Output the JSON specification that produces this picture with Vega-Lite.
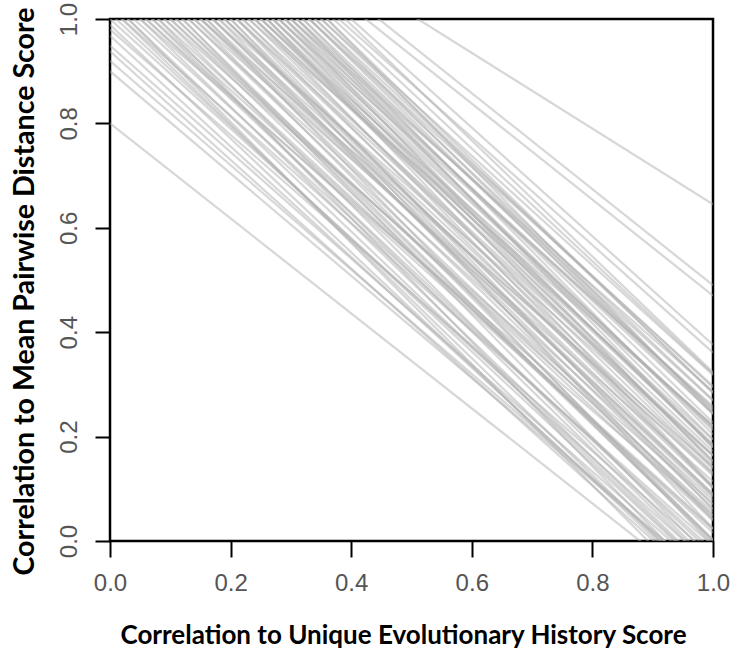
{
  "$schema": "https://vega.github.io/schema/vega-lite/v6.json",
  "autosize": "none",
  "width": 603,
  "height": 522,
  "padding": {"left": 110, "top": 19, "right": 20, "bottom": 119},
  "background": "white",
  "config": {"view": {"stroke": "black", "strokeWidth": 2.5}},
  "datasets": {
    "lines": [
      {"g":1,"x":0,"y":0.90},{"g":1,"x":1,"y":-0.08},
      {"g":2,"x":0,"y":0.92},{"g":2,"x":1,"y":-0.08},
      {"g":3,"x":0,"y":0.938},{"g":3,"x":1,"y":-0.102},
      {"g":4,"x":0,"y":0.949},{"g":4,"x":1,"y":-0.071},
      {"g":5,"x":0,"y":0.968},{"g":5,"x":1,"y":-0.092},
      {"g":6,"x":0,"y":0.980},{"g":6,"x":1,"y":-0.030},
      {"g":7,"x":0,"y":1.000},{"g":7,"x":1,"y":-0.050},
      {"g":8,"x":0,"y":1.011},{"g":8,"x":1,"y":-0.069},
      {"g":9,"x":0,"y":1.021},{"g":9,"x":1,"y":-0.009},
      {"g":10,"x":0,"y":1.033},{"g":10,"x":1,"y":-0.067},
      {"g":11,"x":0,"y":1.042},{"g":11,"x":1,"y":-0.018},
      {"g":12,"x":0,"y":1.056},{"g":12,"x":1,"y":-0.064},
      {"g":13,"x":0,"y":1.062},{"g":13,"x":1,"y":0.022},
      {"g":14,"x":0,"y":1.065},{"g":14,"x":1,"y":-0.025},
      {"g":15,"x":0,"y":1.079},{"g":15,"x":1,"y":-0.051},
      {"g":16,"x":0,"y":1.086},{"g":16,"x":1,"y":0.016},
      {"g":17,"x":0,"y":1.104},{"g":17,"x":1,"y":-0.046},
      {"g":18,"x":0,"y":1.105},{"g":18,"x":1,"y":0.055},
      {"g":19,"x":0,"y":1.111},{"g":19,"x":1,"y":0.001},
      {"g":20,"x":0,"y":1.119},{"g":20,"x":1,"y":0.039},
      {"g":21,"x":0,"y":1.137},{"g":21,"x":1,"y":-0.003},
      {"g":22,"x":0,"y":1.138},{"g":22,"x":1,"y":0.078},
      {"g":23,"x":0,"y":1.143},{"g":23,"x":1,"y":0.043},
      {"g":24,"x":0,"y":1.162},{"g":24,"x":1,"y":0.002},
      {"g":25,"x":0,"y":1.161},{"g":25,"x":1,"y":0.091},
      {"g":26,"x":0,"y":1.168},{"g":26,"x":1,"y":0.048},
      {"g":27,"x":0,"y":1.174},{"g":27,"x":1,"y":0.084},
      {"g":28,"x":0,"y":1.192},{"g":28,"x":1,"y":0.062},
      {"g":29,"x":0,"y":1.179},{"g":29,"x":1,"y":0.129},
      {"g":30,"x":0,"y":1.211},{"g":30,"x":1,"y":0.041},
      {"g":31,"x":0,"y":1.205},{"g":31,"x":1,"y":0.125},
      {"g":32,"x":0,"y":1.211},{"g":32,"x":1,"y":0.101},
      {"g":33,"x":0,"y":1.228},{"g":33,"x":1,"y":0.088},
      {"g":34,"x":0,"y":1.223},{"g":34,"x":1,"y":0.163},
      {"g":35,"x":0,"y":1.231},{"g":35,"x":1,"y":0.131},
      {"g":36,"x":0,"y":1.253},{"g":36,"x":1,"y":0.103},
      {"g":37,"x":0,"y":1.235},{"g":37,"x":1,"y":0.165},
      {"g":38,"x":0,"y":1.258},{"g":38,"x":1,"y":0.138},
      {"g":39,"x":0,"y":1.262},{"g":39,"x":1,"y":0.172},
      {"g":40,"x":0,"y":1.283},{"g":40,"x":1,"y":0.103},
      {"g":41,"x":0,"y":1.260},{"g":41,"x":1,"y":0.220},
      {"g":42,"x":0,"y":1.283},{"g":42,"x":1,"y":0.153},
      {"g":43,"x":0,"y":1.286},{"g":43,"x":1,"y":0.186},
      {"g":44,"x":0,"y":1.302},{"g":44,"x":1,"y":0.142},
      {"g":45,"x":0,"y":1.289},{"g":45,"x":1,"y":0.219},
      {"g":46,"x":0,"y":1.302},{"g":46,"x":1,"y":0.182},
      {"g":47,"x":0,"y":1.305},{"g":47,"x":1,"y":0.215},
      {"g":48,"x":0,"y":1.319},{"g":48,"x":1,"y":0.179},
      {"g":49,"x":0,"y":1.305},{"g":49,"x":1,"y":0.255},
      {"g":50,"x":0,"y":1.322},{"g":50,"x":1,"y":0.212},
      {"g":51,"x":0,"y":1.345},{"g":51,"x":1,"y":0.195},
      {"g":52,"x":0,"y":1.324},{"g":52,"x":1,"y":0.244},
      {"g":53,"x":0,"y":1.347},{"g":53,"x":1,"y":0.227},
      {"g":54,"x":0,"y":1.329},{"g":54,"x":1,"y":0.269},
      {"g":55,"x":0,"y":1.352},{"g":55,"x":1,"y":0.252},
      {"g":56,"x":0,"y":1.374},{"g":56,"x":1,"y":0.204},
      {"g":57,"x":0,"y":1.360},{"g":57,"x":1,"y":0.270},
      {"g":58,"x":0,"y":1.373},{"g":58,"x":1,"y":0.243},
      {"g":59,"x":0,"y":1.364},{"g":59,"x":1,"y":0.294},
      {"g":60,"x":0,"y":1.388},{"g":60,"x":1,"y":0.248},
      {"g":61,"x":0,"y":1.385},{"g":61,"x":1,"y":0.285},
      {"g":62,"x":0,"y":1.368},{"g":62,"x":1,"y":0.318},
      {"g":63,"x":0,"y":1.403},{"g":63,"x":1,"y":0.283},
      {"g":64,"x":0,"y":1.400},{"g":64,"x":1,"y":0.320},
      {"g":65,"x":0,"y":1.391},{"g":65,"x":1,"y":0.361},
      {"g":66,"x":0,"y":1.433},{"g":66,"x":1,"y":0.323},
      {"g":67,"x":0,"y":1.416},{"g":67,"x":1,"y":0.376},
      {"g":68,"x":0,"y":1.050},{"g":68,"x":1,"y":0.050},
      {"g":69,"x":0,"y":1.092},{"g":69,"x":1,"y":0.072},
      {"g":70,"x":0,"y":1.144},{"g":70,"x":1,"y":0.114},
      {"g":71,"x":0,"y":1.184},{"g":71,"x":1,"y":0.164},
      {"g":72,"x":0,"y":1.232},{"g":72,"x":1,"y":0.222},
      {"g":73,"x":0,"y":1.288},{"g":73,"x":1,"y":0.258},
      {"g":74,"x":0,"y":1.142},{"g":74,"x":1,"y":-0.038},
      {"g":75,"x":0,"y":1.192},{"g":75,"x":1,"y":-0.008},
      {"g":76,"x":0,"y":1.244},{"g":76,"x":1,"y":0.024},
      {"g":77,"x":0,"y":1.095},{"g":77,"x":1,"y":-0.095},
      {"g":78,"x":0,"y":1.035},{"g":78,"x":1,"y":-0.125},
      {"g":79,"x":0,"y":1.315},{"g":79,"x":1,"y":0.105},
      {"g":80,"x":0,"y":1.369},{"g":80,"x":1,"y":0.179},
      {"g":81,"x":0,"y":1.425},{"g":81,"x":1,"y":0.245},
      {"g":82,"x":0,"y":1.250},{"g":82,"x":1,"y":0.060},
      {"g":83,"x":0,"y":1.187},{"g":83,"x":1,"y":0.087},
      {"g":84,"x":0,"y":1.254},{"g":84,"x":1,"y":0.194},
      {"g":85,"x":0,"y":1.313},{"g":85,"x":1,"y":0.153},
      {"g":86,"x":0,"y":1.348},{"g":86,"x":1,"y":0.148},
      {"g":87,"x":0,"y":1.347},{"g":87,"x":1,"y":0.297},
      {"g":88,"x":0,"y":1.123},{"g":88,"x":1,"y":0.003},
      {"g":89,"x":0,"y":1.074},{"g":89,"x":1,"y":0.024},
      {"g":90,"x":0,"y":1.219},{"g":90,"x":1,"y":0.069},
      {"g":91,"x":0,"y":1.273},{"g":91,"x":1,"y":0.183},
      {"g":92,"x":0,"y":1.306},{"g":92,"x":1,"y":0.286},
      {"g":93,"x":0,"y":1.022},{"g":93,"x":1,"y":-0.098},
      {"g":94,"x":0,"y":0.989},{"g":94,"x":1,"y":-0.101},
      {"g":95,"x":0,"y":1.152},{"g":95,"x":1,"y":0.142},
      {"g":96,"x":0,"y":0.80},{"g":96,"x":1,"y":-0.11},
      {"g":97,"x":0,"y":1.37},{"g":97,"x":1,"y":0.645},
      {"g":98,"x":0,"y":1.41},{"g":98,"x":1,"y":0.49},
      {"g":99,"x":0,"y":1.39},{"g":99,"x":1,"y":0.47}
    ]
  },
  "data": {"name": "lines"},
  "mark": {"type": "line", "clip": true, "stroke": "#b0b0b0", "strokeWidth": 2.2, "opacity": 0.5},
  "encoding": {
    "detail": {"field": "g", "type": "nominal"},
    "x": {
      "field": "x", "type": "quantitative",
      "scale": {"domain": [0, 1], "nice": false, "zero": false},
      "axis": {
        "values": [0, 0.2, 0.4, 0.6, 0.8, 1.0], "format": ".1f",
        "domain": false, "grid": false,
        "tickSize": 16, "tickWidth": 2, "tickColor": "black",
        "labelFont": "Liberation Sans", "labelFontSize": 24, "labelColor": "#555555",
        "labelPadding": 14, "labelFlush": false, "labelOverlap": false,
        "title": "Correlation to Unique Evolutionary History Score",
        "titleFont": "Lato", "titleFontWeight": "bold", "titleFontSize": 26, "titleColor": "black",
        "titlePadding": 27, "titleX": 293
      }
    },
    "y": {
      "field": "y", "type": "quantitative",
      "scale": {"domain": [0, 1], "nice": false, "zero": false},
      "axis": {
        "values": [0, 0.2, 0.4, 0.6, 0.8, 1.0], "format": ".1f",
        "domain": false, "grid": false,
        "tickSize": 15, "tickWidth": 2, "tickColor": "black",
        "labelFont": "Liberation Sans", "labelFontSize": 24, "labelColor": "#555555",
        "labelAngle": 270, "labelAlign": "center", "labelBaseline": "alphabetic",
        "labelPadding": 19, "labelFlush": false, "labelOverlap": false,
        "title": "Correlation to Mean Pairwise Distance Score",
        "titleFont": "Lato", "titleFontWeight": "bold", "titleFontSize": 28.6, "titleColor": "black",
        "titlePadding": 18, "titleY": 272
      }
    }
  }
}
